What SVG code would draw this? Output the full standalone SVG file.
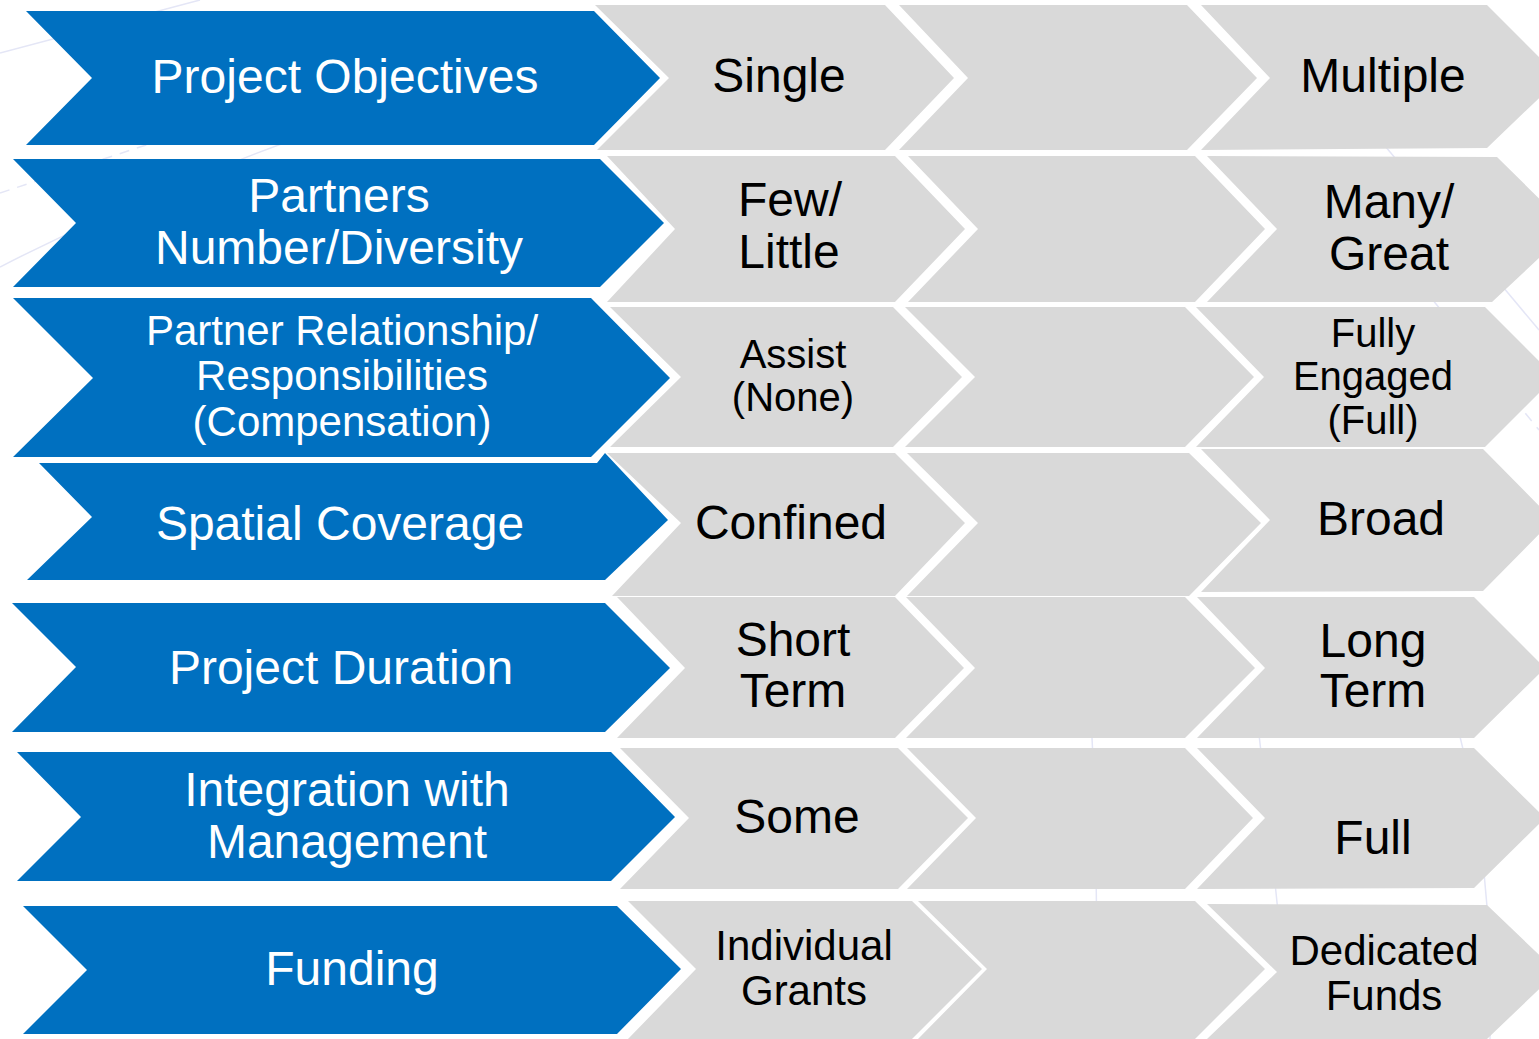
<svg xmlns="http://www.w3.org/2000/svg" width="1539" height="1039" viewBox="0 0 1539 1039">
<style>
.bg{fill:none;stroke:#E4E6F6;stroke-width:1.5}
.dash{stroke-dasharray:10 8}
.blue{fill:#0070C0}
.grey{fill:#D9D9D9}
text{font-family:"Liberation Sans",Arial,sans-serif;text-anchor:middle}
.bt{fill:#FFFFFF;font-size:48px}
.bt3{fill:#FFFFFF;font-size:42px}
.gt{fill:#000000;font-size:48px}
.gt40{fill:#000000;font-size:40px}
.gt42{fill:#000000;font-size:42px}
</style>
<rect width="1539" height="1039" fill="#FFFFFF"/>
<g id="background-lines">
<path class="bg" d="M0,53 L200,0"/>
<path class="bg" d="M0,267 Q150,190 320,130"/>
<path class="bg dash" d="M0,193 L420,55"/>
<path class="bg" d="M1380,140 L1539,330"/>
<path class="bg dash" d="M1400,260 L1539,430"/>
<path class="bg" d="M1090,700 Q1100,870 1095,1039"/>
<path class="bg" d="M1255,700 Q1275,870 1290,1039"/>
<path class="bg" d="M1450,700 Q1495,850 1490,1039"/>
</g>
<g id="connectors"></g>
<g id="row1">
<g id="node-project-objectives"><polygon class="blue" points="26,11 594,11 660,78 594,145 26,145 92,78"/><text class="bt" x="345" y="93">Project Objectives</text></g>
<g id="node-single"><polygon class="grey" points="595,5 885,5 954,78 885,150 597,150 669,78"/><text class="gt" x="779" y="92">Single</text></g>
<g id="node-r1-mid"><polygon class="grey" points="899,5 1187,5 1257,78 1187,150 899,150 968,78"/></g>
<g id="node-multiple"><polygon class="grey" points="1201,5 1487,5 1560,78 1487,148 1201,150 1270,78"/><text class="gt" x="1383" y="92">Multiple</text></g>
</g>
<g id="row2">
<g id="node-partners"><polygon class="blue" points="13,159 600,159 664,223 600,287 13,287 76,223"/><text class="bt" x="339" y="212">Partners</text><text class="bt" x="339" y="264">Number/Diversity</text></g>
<g id="node-few"><polygon class="grey" points="607,156 895,156 965,229 895,302 607,302 675,229"/><text class="gt" x="790" y="216">Few/</text><text class="gt" x="789" y="268">Little</text></g>
<g id="node-r2-mid"><polygon class="grey" points="908,156 1195,156 1265,229 1195,302 908,302 978,229"/></g>
<g id="node-many"><polygon class="grey" points="1207,156 1497,157 1570,229 1492,302 1207,302 1277,229"/><text class="gt" x="1389" y="218">Many/</text><text class="gt" x="1389" y="270">Great</text></g>
</g>
<g id="row3">
<g id="node-partner-relationship"><polygon class="blue" points="13,298 591,298 670,378 591,457 13,457 93,378"/><text class="bt3" x="342" y="345">Partner Relationship/</text><text class="bt3" x="342" y="390">Responsibilities</text><text class="bt3" x="342" y="436">(Compensation)</text></g>
<g id="node-assist"><polygon class="grey" points="610,307 893,307 962,377 893,447 610,447 681,377"/><text class="gt40" x="793" y="368">Assist</text><text class="gt40" x="793" y="411">(None)</text></g>
<g id="node-r3-mid"><polygon class="grey" points="905,307 1185,307 1254,377 1185,447 905,447 975,377"/></g>
<g id="node-fully"><polygon class="grey" points="1196,307 1485,307 1555,377 1485,447 1196,447 1264,377"/><text class="gt40" x="1373" y="347">Fully</text><text class="gt40" x="1373" y="390">Engaged</text><text class="gt40" x="1373" y="434">(Full)</text></g>
</g>
<g id="row4">
<g id="node-spatial"><polygon class="blue" points="39,463 597,463 605,453 668,520 605,580 27,580 92,517"/><text class="bt" x="340" y="540">Spatial Coverage</text></g>
<g id="node-confined"><polygon class="grey" points="607,453 895,453 965,523 895,596 612,596 681,523"/><text class="gt" x="791" y="539">Confined</text></g>
<g id="node-r4-mid"><polygon class="grey" points="907,453 1189,453 1261,523 1189,596 907,596 978,523"/></g>
<g id="node-broad"><polygon class="grey" points="1201,449 1483,449 1553,520 1483,591 1201,592 1270,520"/><text class="gt" x="1381" y="535">Broad</text></g>
</g>
<g id="row5">
<g id="node-duration"><polygon class="blue" points="12,603 605,603 670,668 605,732 12,732 76,667"/><text class="bt" x="341" y="684">Project Duration</text></g>
<g id="node-short"><polygon class="grey" points="617,597 895,597 964,668 895,738 617,738 685,668"/><text class="gt" x="793" y="656">Short</text><text class="gt" x="793" y="707">Term</text></g>
<g id="node-r5-mid"><polygon class="grey" points="906,597 1185,597 1255,668 1185,738 906,738 975,668"/></g>
<g id="node-long"><polygon class="grey" points="1197,597 1474,597 1545,668 1474,738 1197,738 1265,668"/><text class="gt" x="1373" y="657">Long</text><text class="gt" x="1373" y="707">Term</text></g>
</g>
<g id="row6">
<g id="node-integration"><polygon class="blue" points="17,752 611,752 675,817 611,881 17,881 81,817"/><text class="bt" x="347" y="806">Integration with</text><text class="bt" x="347" y="858">Management</text></g>
<g id="node-some"><polygon class="grey" points="620,748 898,748 968,818 898,889 620,889 689,818"/><text class="gt" x="797" y="833">Some</text></g>
<g id="node-r6-mid"><polygon class="grey" points="907,748 1185,748 1253,818 1185,889 907,889 976,818"/></g>
<g id="node-full"><polygon class="grey" points="1197,748 1474,748 1545,818 1474,888 1197,889 1265,818"/><text class="gt" x="1373" y="854">Full</text></g>
</g>
<g id="row7">
<g id="node-funding"><polygon class="blue" points="23,906 617,906 681,969 617,1034 23,1034 87,970"/><text class="bt" x="352" y="985">Funding</text></g>
<g id="node-individual"><polygon class="grey" points="628,901 912,901 982,969 912,1039 628,1039 696,969"/><text class="gt42" x="804" y="960">Individual</text><text class="gt42" x="804" y="1005">Grants</text></g>
<g id="node-r7-mid"><polygon class="grey" points="918,901 1195,901 1265,969 1195,1039 918,1039 987,969"/></g>
<g id="node-dedicated"><polygon class="grey" points="1207,904 1487,905 1557,972 1487,1039 1207,1039 1277,972"/><text class="gt42" x="1384" y="965">Dedicated</text><text class="gt42" x="1384" y="1010">Funds</text></g>
</g>
</svg>
